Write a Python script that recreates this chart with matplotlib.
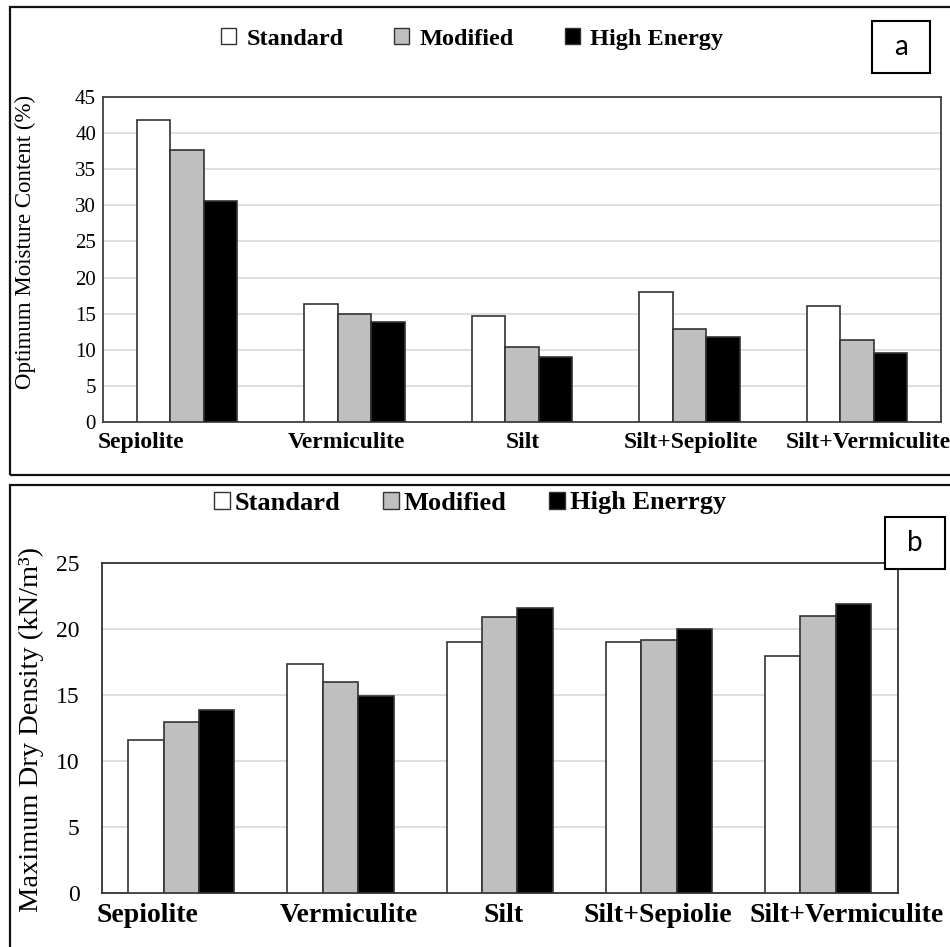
import numpy as np
import matplotlib
matplotlib.use("Agg")
import matplotlib.pyplot as plt
from matplotlib.patches import Rectangle, Patch

# ---- data ----
cats_a = ["Sepiolite", "Vermiculite", "Silt", "Silt+Sepiolite", "Silt+Vermiculite"]
std_a = [41.8, 16.4, 14.7, 18.0, 16.0]
mod_a = [37.6, 14.9, 10.4, 12.9, 11.3]
he_a = [30.6, 13.9, 9.0, 11.8, 9.6]

cats_b = ["Sepiolite", "Vermiculite", "Silt", "Silt+Sepiolie", "Silt+Vermiculite"]
std_b = [11.6, 17.35, 19.0, 19.0, 18.0]
mod_b = [13.0, 16.0, 20.95, 19.2, 21.0]
he_b = [13.9, 14.95, 21.6, 20.0, 21.95]

legend_a = ["Standard", "Modified", "High Energy"]
legend_b = ["Standard", "Modified", "High Enerrgy"]
colors = ["white", "#bfbfbf", "black"]

W, H = 950, 947
fig = plt.figure(figsize=(W / 100, H / 100), dpi=100)
serif = "Liberation Serif"

def fx(px):
    return px / W

def fy(py):
    return 1 - py / H

def panel(rect_px, cats, series, ymax, group_frac, label_off, tick_fs, xlab_fs, pad, spine_c):
    x0, y0, x1, y1 = rect_px
    ax = fig.add_axes([fx(x0), fy(y1), fx(x1 - x0), (y1 - y0) / H])
    x = np.arange(len(cats))
    w = group_frac / 3
    for i, (vals, c) in enumerate(zip(series, colors)):
        ax.bar(x + (i - 1) * w, vals, width=w, color=c, edgecolor="#333333",
               linewidth=1.2, zorder=3)
    ax.set_xlim(-0.5, len(cats) - 0.5)
    ax.set_ylim(0, ymax)
    ax.set_yticks(np.arange(0, ymax + 1, 5))
    ax.yaxis.grid(True, color="#d9d9d9", linewidth=1.2, zorder=0)
    ax.set_axisbelow(True)
    ax.set_xticks(x + np.array(label_off))
    ax.set_xticklabels(cats, fontfamily=serif, fontweight="bold", fontsize=xlab_fs)
    ax.tick_params(axis="both", length=0)
    ax.tick_params(axis="y", labelsize=tick_fs, pad=pad)
    ax.tick_params(axis="x", pad=7)
    for lab in ax.get_yticklabels():
        lab.set_fontfamily(serif)
    for s in ax.spines.values():
        s.set_color(spine_c)
        s.set_linewidth(1.3)
    return ax

# panel a
ax_a = panel((103, 97, 941, 422), cats_a, [std_a, mod_a, he_a], 45, 0.6,
             [-0.276, -0.05, 0.006, 0.008, 0.064], 15, 17, 5, "#404040")
fig.text(fx(25), fy(242), "Optimum Moisture Content (%)", rotation=90,
         ha="center", va="center", fontfamily=serif, fontsize=16.5)

# panel b
ax_b = panel((101.7, 563.3, 897.7, 893.3), cats_b, [std_b, mod_b, he_b], 25, 0.667,
             [-0.212, 0.052, 0.026, -0.009, 0.18], 17, 20, 16, "#333333")
fig.text(fx(31), fy(729), "Maximum Dry Density (kN/m³)", rotation=90,
         ha="center", va="center", fontfamily=serif, fontsize=20.5)

# legends
def make_legend(labels, center, fs, hl, htp, cs):
    handles = [Patch(facecolor=c, edgecolor="#333333", linewidth=1.0) for c in colors]
    leg = fig.legend(handles, labels, loc="center", bbox_to_anchor=(fx(center[0]), fy(center[1])),
                     ncol=3, frameon=False, handlelength=hl, handleheight=hl,
                     handletextpad=htp, columnspacing=cs, borderaxespad=0,
                     prop={"family": serif, "weight": "bold", "size": fs})
    return leg

make_legend(legend_a, (472, 39), 17.5, 0.62, 0.41, 2.1)
make_legend(legend_b, (470, 503), 19, 0.6, 0.2, 1.6)

# outer panel frames
fig.patches.append(Rectangle((fx(10), fy(475)), fx(960) - fx(10), (475 - 7) / H,
                             transform=fig.transFigure, fill=False, edgecolor="#111111",
                             linewidth=1.6, zorder=0))
fig.patches.append(Rectangle((fx(10), fy(960)), fx(960) - fx(10), (960 - 485) / H,
                             transform=fig.transFigure, fill=False, edgecolor="#111111",
                             linewidth=1.6, zorder=0))

# panel letter boxes
for (bx0, by0, bx1, by1), letter in [((872, 21, 930, 73), "a"), ((885, 517, 945, 569), "b")]:
    fig.patches.append(Rectangle((fx(bx0), fy(by1)), fx(bx1 - bx0), (by1 - by0) / H,
                                 transform=fig.transFigure, facecolor="white",
                                 edgecolor="black", linewidth=1.5, zorder=5))
    fig.text(fx((bx0 + bx1) / 2), fy((by0 + by1) / 2), letter, ha="center", va="center",
             fontfamily="Lato", fontsize=20, zorder=6)

fig.savefig("out.png", dpi=100)
